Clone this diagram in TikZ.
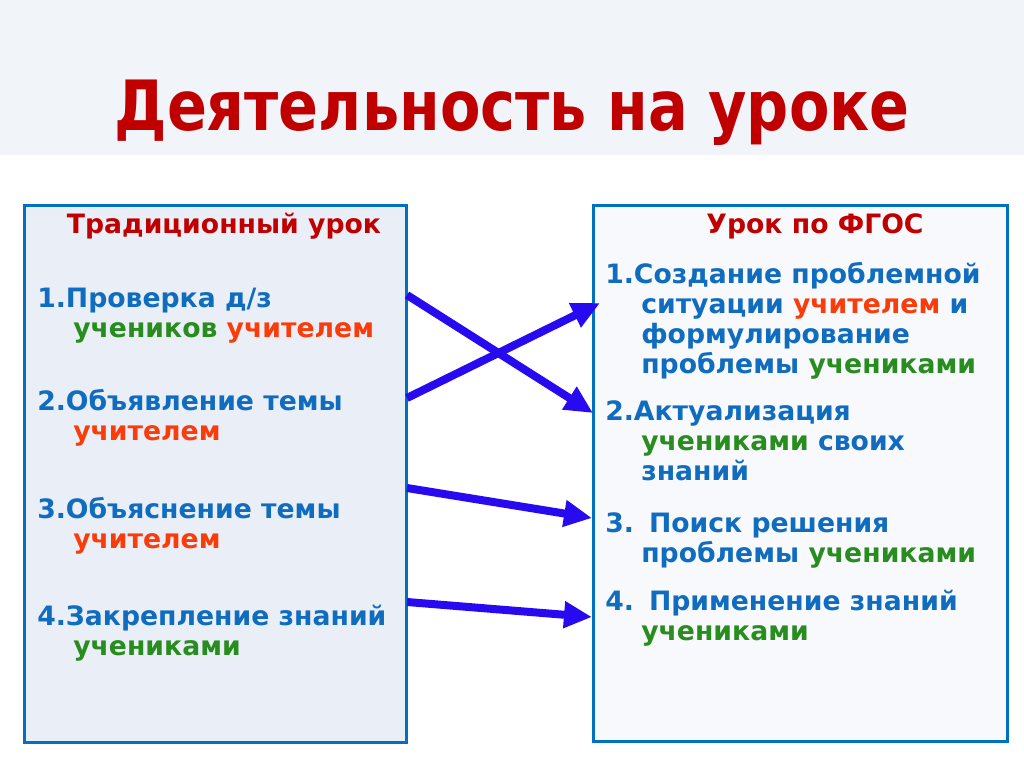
\documentclass[tikz,border=0pt]{standalone}
\usepackage{fontspec}
\setmainfont{DejaVu Sans}
\usetikzlibrary{arrows.meta}

\begin{document}
\begin{tikzpicture}[x=0.75pt, y=-0.75pt,
    font=\bfseries\fontsize{20}{22.5}\selectfont,
    lessonbox/.style={draw=BoxBorder, line width=2.25pt, anchor=north west, inner sep=0pt},
    itemtext/.style={anchor=base west, align=left, inner sep=0pt, text=ItemBlue},
    headtext/.style={anchor=base, inner sep=0pt, text=HeadRed},
    link/.style={-{Triangle[length=21pt,width=19pt]}, line width=6pt, LinkBlue}
]

\definecolor{BandFill}{RGB}{241,244,249}
\definecolor{HeadRed}{RGB}{192,0,0}
\definecolor{BoxBorder}{RGB}{0,112,192}
\definecolor{LeftFill}{RGB}{234,239,247}
\definecolor{RightFill}{RGB}{247,249,252}
\definecolor{ItemBlue}{RGB}{16,108,190}
\definecolor{Teacher}{RGB}{250,60,10}
\definecolor{Pupil}{RGB}{40,140,30}
\definecolor{LinkBlue}{RGB}{40,10,240}

\useasboundingbox (0,0) rectangle (1024,767);

% ── Полоса заголовка ─────────────────────────────────────────
\fill[BandFill] (0,0) rectangle (1024,155);
\node[headtext, font=\bfseries\fontsize{52}{60}\selectfont] (title) at (512,130)
    {\scalebox{0.85}[1]{Деятельность на уроке}};

% ── Левый блок (база узла = последняя строка) ────────────────
\node[lessonbox, fill=LeftFill, minimum width=382*0.75pt, minimum height=537*0.75pt]
    (trad) at (23,204) {};
\node[headtext] (tradhead) at (224,233) {Традиционный урок};

\node[itemtext] (t1) at (37,337)
    {1.Проверка д/з\\\hspace*{27pt}\textcolor{Pupil}{учеников} \textcolor{Teacher}{учителем}};
\node[itemtext] (t2) at (37,440)
    {2.Объявление темы\\\hspace*{27pt}\textcolor{Teacher}{учителем}};
\node[itemtext] (t3) at (37,548)
    {3.Объяснение темы\\\hspace*{27pt}\textcolor{Teacher}{учителем}};
\node[itemtext] (t4) at (37,655)
    {4.Закрепление знаний\\\hspace*{27pt}\textcolor{Pupil}{учениками}};

% ── Правый блок ──────────────────────────────────────────────
\node[lessonbox, fill=RightFill, minimum width=414*0.75pt, minimum height=536*0.75pt]
    (fgos) at (592,204) {};
\node[headtext] (fgoshead) at (815,233) {Урок по ФГОС};

\node[itemtext] (f1) at (605,373)
    {1.Создание проблемной\\\hspace*{27pt}ситуации \textcolor{Teacher}{учителем} и\\
     \hspace*{27pt}формулирование\\\hspace*{27pt}проблемы \textcolor{Pupil}{учениками}};
\node[itemtext] (f2) at (605,480)
    {2.Актуализация\\\hspace*{27pt}\textcolor{Pupil}{учениками} своих\\\hspace*{27pt}знаний};
\node[itemtext] (f3) at (605,562)
    {3.\hspace{2pt} Поиск решения\\\hspace*{27pt}проблемы \textcolor{Pupil}{учениками}};
\node[itemtext] (f4) at (605,640)
    {4.\hspace{2pt} Применение знаний\\\hspace*{27pt}\textcolor{Pupil}{учениками}};

% ── Стрелки между блоками ────────────────────────────────────
\coordinate (from1) at (407,295);
\coordinate (from2) at (407,398);
\coordinate (from3) at (407,488);
\coordinate (from4) at (407,602);
\coordinate (to1) at (600,303);
\coordinate (to2) at (593,413);
\coordinate (to3) at (592,518);
\coordinate (to4) at (592,617);

\draw[link] (from1) -- (to2);
\draw[link] (from2) -- (to1);
\draw[link] (from3) -- (to3);
\draw[link] (from4) -- (to4);

\end{tikzpicture}
\end{document}
